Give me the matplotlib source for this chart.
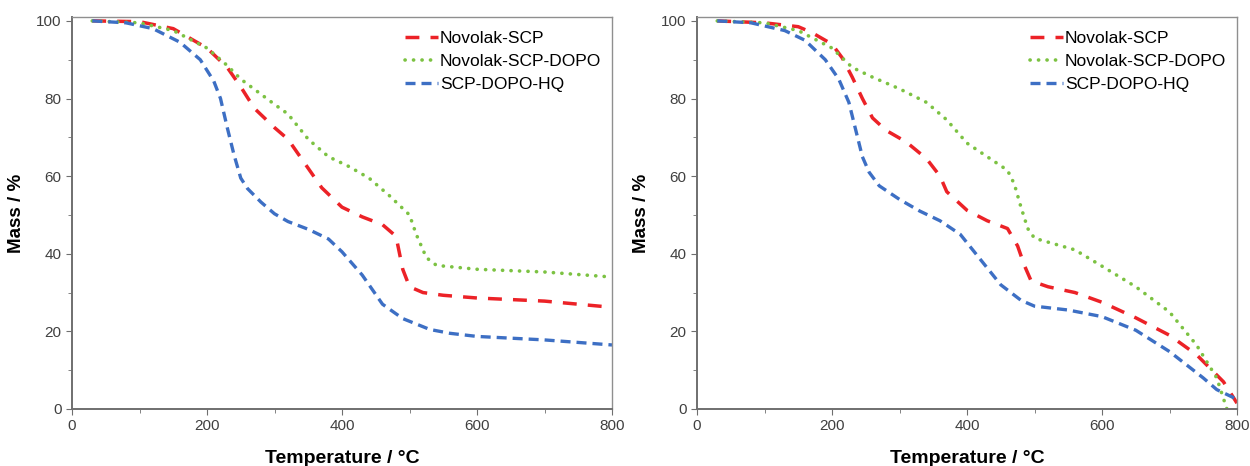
import matplotlib
matplotlib.use("Agg")
import matplotlib.pyplot as plt
from matplotlib.ticker import MultipleLocator

plt.rcParams['font.family'] = ['Liberation Sans', 'DejaVu Sans']

# panel a
t_red_a = [30, 100, 150, 200, 230, 250, 270, 300, 320, 340, 370, 400, 430, 460, 480, 490, 500, 520, 550, 600, 700, 800]
m_red_a = [100, 99.8, 98, 93, 88, 83, 77.5, 72.5, 69.5, 64.5, 57, 52, 49.5, 47.5, 44.5, 36, 31.5, 30, 29.3, 28.6, 27.8, 26.2]
t_grn_a = [30, 100, 150, 200, 230, 250, 300, 320, 350, 380, 410, 440, 470, 500, 510, 525, 540, 600, 700, 800]
m_grn_a = [100, 99.5, 97.5, 93, 88.5, 85, 78.5, 76, 69.5, 65, 62.5, 59.5, 55, 50, 45, 39, 37, 36, 35.3, 34]
t_blu_a = [30, 80, 120, 160, 190, 210, 220, 230, 240, 250, 260, 280, 300, 320, 350, 380, 400, 430, 460, 490, 530, 560, 600, 700, 800]
m_blu_a = [100, 99.5, 98, 94.5, 90, 84.5, 80, 72.5, 65.5, 59.5, 56.8, 53.3, 50.3, 48.3, 46.3, 43.8, 40.5, 34.5, 27, 23.3, 20.5, 19.5, 18.7, 17.8, 16.5]

# panel b
t_red_b = [30, 100, 150, 170, 200, 215, 230, 245, 260, 280, 310, 340, 360, 370, 400, 430, 460, 475, 485, 495, 520, 560, 600, 650, 700, 740, 780, 800]
m_red_b = [100, 99.5, 98.5, 97, 94, 90.5, 85.5, 80, 75, 71.8, 68.8, 64.5, 60, 56, 51.2, 48.5, 46.5, 42, 37, 33, 31.5, 30, 27.5, 23.5, 19, 14, 7, 1.5]
t_grn_b = [30, 100, 150, 200, 230, 260, 300, 340, 370, 400, 430, 460, 470, 480, 490, 500, 530, 560, 600, 650, 700, 740, 770, 785]
m_grn_b = [100, 99.5, 97.5, 93, 88, 85.5, 82.5, 79, 74.5, 68.5, 65, 61.5, 58, 52, 46.5, 44, 42.5, 41, 36.8, 31.5, 25, 16.5, 8, 0]
t_blu_b = [30, 80, 130, 160, 190, 210, 225, 235, 245, 255, 270, 300, 330, 360, 390, 420, 450, 480, 500, 550, 600, 650, 700, 750, 770, 800]
m_blu_b = [100, 99.5, 97.5, 95, 90, 85, 79, 72, 65, 61, 57.5, 54, 51, 48.5, 45, 38.5, 32, 28, 26.5, 25.5, 23.8, 20.3, 14.8, 8, 5, 2.5]

labels = ['Novolak-SCP', 'Novolak-SCP-DOPO', 'SCP-DOPO-HQ']
panels = [
    [(t_red_a, m_red_a), (t_grn_a, m_grn_a), (t_blu_a, m_blu_a)],
    [(t_red_b, m_red_b), (t_grn_b, m_grn_b), (t_blu_b, m_blu_b)],
]

colors = ['#ec2227', '#7cc242', '#3d6fc4']
styles = [(0, (4, 3.2)), (0, (0.05, 2.3)), (0, (3, 1.8))]
widths = [2.5, 2.6, 2.4]
caps = ['butt', 'round', 'butt']

fig = plt.figure(figsize=(12.5, 4.66), dpi=100)
lefts = [72 / 1250, 697 / 1250]
for p, left in enumerate(lefts):
    ax = fig.add_axes([left, 1 - 409 / 466, 540 / 1250, 392 / 466])
    for (t, m), c, ls, lw, cap, lab in zip(panels[p], colors, styles, widths, caps, labels):
        ax.plot(t, m, color=c, linestyle=ls, linewidth=lw, label=lab,
                dash_capstyle=cap)
    ax.set_xlim(0, 800)
    ax.set_ylim(0, 101)
    ax.xaxis.set_major_locator(MultipleLocator(200))
    ax.xaxis.set_minor_locator(MultipleLocator(100))
    ax.yaxis.set_major_locator(MultipleLocator(20))
    ax.yaxis.set_minor_locator(MultipleLocator(10))
    ax.tick_params(which='both', direction='out', color='#6f6f6f', labelsize=11,
                   labelcolor='#404040', top=False, right=False)
    ax.tick_params(which='major', length=4)
    ax.tick_params(which='minor', length=3)
    for s in ['left', 'bottom']:
        ax.spines[s].set_color('#6f6f6f')
        ax.spines[s].set_linewidth(1.4)
    for s in ['top', 'right']:
        ax.spines[s].set_color('#8f8f8f')
        ax.spines[s].set_linewidth(1.0)
    ax.set_xlabel('Temperature / °C', fontsize=14, fontweight='bold', labelpad=12)
    ax.set_ylabel('Mass / %', fontsize=13.5, fontweight='bold', labelpad=8)
    ax.legend(loc='upper left', frameon=False, fontsize=12.5, handlelength=1.9,
              handletextpad=0.1, labelspacing=0.45, borderpad=0, borderaxespad=0,
              bbox_to_anchor=(0.617, 0.965))

fig.savefig('out.png', dpi=100)
